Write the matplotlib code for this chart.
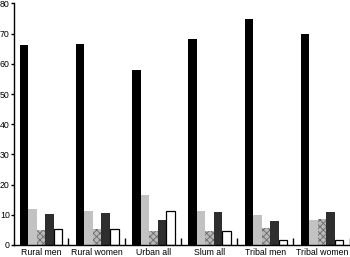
"""Grouped bar chart: six population groups, five categories each."""

import matplotlib

matplotlib.use("Agg")

import numpy as np  # noqa: E402
from matplotlib import pyplot as plt  # noqa: E402

plt.rcParams["font.family"] = ["Liberation Sans", "DejaVu Sans"]
plt.rcParams["hatch.linewidth"] = 0.6

GROUPS = ["Rural men", "Rural women", "Urban all", "Slum all", "Tribal men", "Tribal women"]
SERIES_1 = [66.4, 66.5, 58.0, 68.1, 75.0, 70.0]
SERIES_2 = [11.8, 11.4, 16.7, 11.2, 9.8, 8.2]
SERIES_3 = [4.9, 5.2, 4.7, 4.5, 5.6, 8.5]
SERIES_4 = [10.4, 10.7, 8.2, 11.0, 7.8, 10.8]
SERIES_5 = [5.2, 5.2, 11.3, 4.5, 1.5, 1.6]
Y_TICKS = [0, 10, 20, 30, 40, 50, 60, 70, 80]

STYLES = [
    dict(color="#000000"),
    dict(color="#c2c2c2"),
    dict(facecolor="#b8b8b8", edgecolor="#6a6a6a", hatch="xxxxx", linewidth=0),
    dict(color="#2e2e2e"),
    dict(facecolor="white", edgecolor="black", linewidth=0.9),
]

fig = plt.figure(figsize=(3.5, 2.57), dpi=100)
ax = fig.add_axes([14 / 350, 12 / 257, 335.5 / 350, 241.5 / 257])

x = np.arange(len(GROUPS))
width = 0.152
for k, (values, style) in enumerate(
    zip([SERIES_1, SERIES_2, SERIES_3, SERIES_4, SERIES_5], STYLES)
):
    ax.bar(x + k * width, values, width=width, align="edge", **style)

ax.set_xlim(-0.1, len(GROUPS) - 1 + 0.867)
ax.set_ylim(0, 80)
ax.set_yticks(Y_TICKS)
ax.set_xticks(x + 2.5 * width, GROUPS)
ax.set_xticks(x + 0.867, minor=True)

for side in ("top", "right"):
    ax.spines[side].set_visible(False)
for side in ("left", "bottom"):
    ax.spines[side].set_linewidth(1.0)

ax.tick_params(axis="y", direction="out", length=2.5, width=1, pad=0.5, labelsize=6.3)
ax.tick_params(axis="x", which="major", length=0, pad=2, labelsize=6.3)
ax.tick_params(axis="x", which="minor", direction="in", length=5, width=1)

fig.savefig("out.png", dpi=100)
plt.close(fig)
